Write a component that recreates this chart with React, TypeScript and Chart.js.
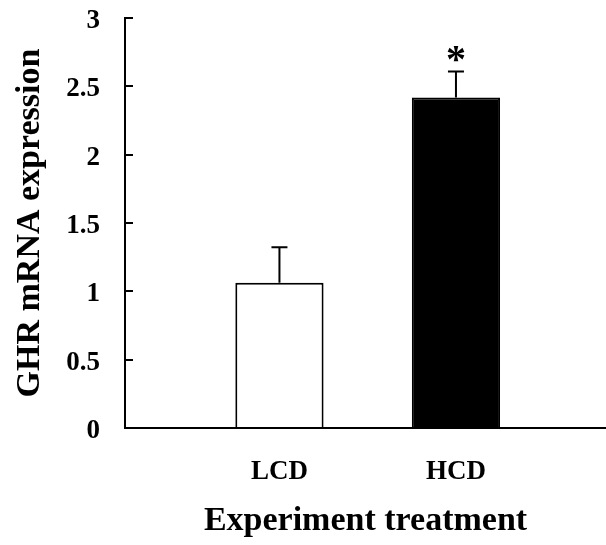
import React, { useEffect, useRef } from "react";
import { Chart, registerables } from "chart.js";

Chart.register(...registerables);

const categories = ["LCD", "HCD"];
const means = [1.063, 2.419];
const errors = [0.259, 0.19];
const sigMarks = ["", "*"];
const barFills = ["#ffffff", "#000000"];
const yTicks = [0, 0.5, 1, 1.5, 2, 2.5, 3];

const FONT = '"Times New Roman", "Liberation Serif", serif';

const errorBarPlugin = {
  id: "errorBars",
  afterDatasetsDraw(chart: any) {
    const xs = chart.scales.x;
    const ys = chart.scales.y;
    const ctx = chart.ctx;
    ctx.save();
    ctx.strokeStyle = "#000";
    ctx.lineWidth = 2;
    categories.forEach((_, i) => {
      const x = xs.getPixelForValue(i + 1);
      const y0 = ys.getPixelForValue(means[i]);
      const y1 = ys.getPixelForValue(means[i] + errors[i]);
      ctx.beginPath();
      ctx.moveTo(x, y0);
      ctx.lineTo(x, y1);
      ctx.moveTo(x - 8, y1);
      ctx.lineTo(x + 8, y1);
      ctx.stroke();
      if (sigMarks[i]) {
        ctx.fillStyle = "#000";
        ctx.font = `bold 40px ${FONT}`;
        ctx.textAlign = "center";
        ctx.textBaseline = "alphabetic";
        ctx.fillText(sigMarks[i], x, y1 + 1);
      }
    });
    ctx.restore();
  },
};

export default function App() {
  const ref = useRef<HTMLCanvasElement | null>(null);
  useEffect(() => {
    if (!ref.current) return;
    const chart = new Chart(ref.current, {
      type: "bar",
      data: {
        datasets: [
          {
            data: categories.map((_, i) => ({ x: i + 1, y: means[i] })),
            backgroundColor: barFills,
            borderColor: "#000",
            borderWidth: 2,
            barPercentage: 0.5,
            categoryPercentage: 1,
          },
        ],
      },
      options: {
        animation: false,
        responsive: false,
        maintainAspectRatio: false,
        layout: { padding: { top: 18, right: 0, left: 0, bottom: 3 } },
        plugins: { legend: { display: false }, tooltip: { enabled: false } },
        scales: {
          x: {
            type: "linear",
            offset: false,
            min: 0.125,
            max: 2.85,
            afterBuildTicks(scale: any) {
              scale.ticks = categories.map((_, i) => ({ value: i + 1 }));
            },
            afterFit(scale: any) {
              scale.height = 114;
              scale.paddingLeft = 0;
              scale.paddingRight = 0;
            },
            ticks: {
              callback: (v: any) => categories[Number(v) - 1] ?? "",
              color: "#000",
              font: { family: FONT, size: 27, weight: "bold" },
              padding: 28,
              maxRotation: 0,
              autoSkip: false,
            },
            grid: { display: false, drawTicks: false, offset: false },
            border: { display: true, color: "#000", width: 2 },
            title: {
              display: true,
              text: "Experiment treatment",
              color: "#000",
              font: { family: FONT, size: 34, weight: "bold" },
              padding: { top: 0, bottom: 0 },
            },
          },
          y: {
            min: 0,
            max: 3,
            afterBuildTicks(scale: any) {
              scale.ticks = yTicks.map((v) => ({ value: v }));
            },
            afterFit(scale: any) {
              scale.width = 125;
              scale.paddingTop = 0;
              scale.paddingBottom = 0;
            },
            ticks: {
              color: "#000",
              font: { family: FONT, size: 27, weight: "bold" },
              padding: 33,
              labelOffset: 3,
              callback: (v: any) => String(v),
            },
            grid: {
              display: true,
              drawOnChartArea: false,
              drawTicks: true,
              tickLength: -8,
              color: "#000",
              lineWidth: 2,
            },
            border: { display: true, color: "#000", width: 2 },
            title: {
              display: true,
              text: "GHR mRNA expression",
              color: "#000",
              font: { family: FONT, size: 34, weight: "bold" },
              padding: { top: 10, bottom: 0 },
            },
          },
        },
      },
      plugins: [errorBarPlugin],
    });
    return () => chart.destroy();
  }, []);
  return (
    <div style={{ position: "absolute", left: 0, top: 0, width: 606, height: 545, background: "#fff" }}>
      <canvas ref={ref} width={606} height={545} />
    </div>
  );
}
